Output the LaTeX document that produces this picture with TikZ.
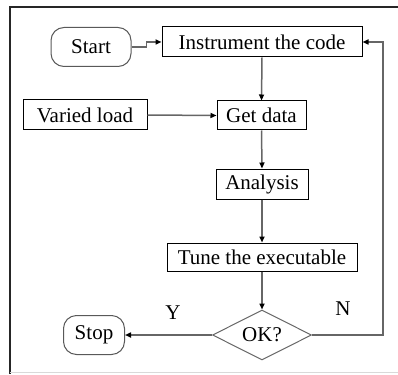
\documentclass[tikz,border=0pt]{standalone}
\usepackage{fontspec}
\setmainfont{Liberation Serif}
\usetikzlibrary{shapes.geometric,arrows.meta}

\begin{document}
\begin{tikzpicture}[x=1pt,y=-1pt,
    txt/.style={font=\fontsize{21}{24}\selectfont},
    box/.style={txt,draw=black,line width=1pt,inner sep=0pt,minimum height=30pt},
    term/.style={box,draw=black!65,rounded corners=13pt,minimum height=39pt},
    test/.style={txt,diamond,draw=black!60,line width=1pt,inner sep=0pt,aspect=2,minimum width=99pt,minimum height=50pt},
    flow/.style={draw=black!60,line width=1.5pt,-{Triangle[black,length=6pt,width=5pt]}}]
            \useasboundingbox (0,0) rectangle (398,374);
            % frame
            \draw[black!85,line width=1.5pt](10,374) -- (10,7) -- (398,7);
            \draw[black!15,line width=1pt](10,372) -- (398,372);

            % nodes
            \node[term,minimum width=80pt] (start) at (91,47){Start};
            \node[box,minimum width=200pt] (instr) at (262,42){Instrument the code};
            \node[box,minimum width=124pt] (load) at (85,115){Varied load};
            \node[box,minimum width=89pt,minimum height=29pt] (data) at (261.5,115.5){Get data};
            \node[box,minimum width=92pt] (anal) at (262,184){Analysis};
            \node[box,minimum width=190pt,minimum height=28pt] (tune) at (262,257){Tune the executable};
            \node[test] (ok) at (262,335){OK?};
            \node[term,minimum width=61pt] (stop) at (94,335){Stop};
            \node[txt] (yes) at (173,313){Y};
            \node[txt] (no) at (343,309){N};

            % connectors
            \draw[flow](start.east) -- ++(15,0) |- (instr.west);
            \draw[flow](instr.south) -- (data.north);
            \draw[flow](load.east) -- (data.west);
            \draw[flow](data.south) -- (anal.north);
            \draw[flow](anal.south) -- (tune.north);
            \draw[flow](tune.south) -- (ok.north);
            \draw[flow](ok.west) -- (stop.east);
            \draw[flow](ok.east) -- ++(71,0) |- (instr.east);
        \end{tikzpicture}
\end{document}
